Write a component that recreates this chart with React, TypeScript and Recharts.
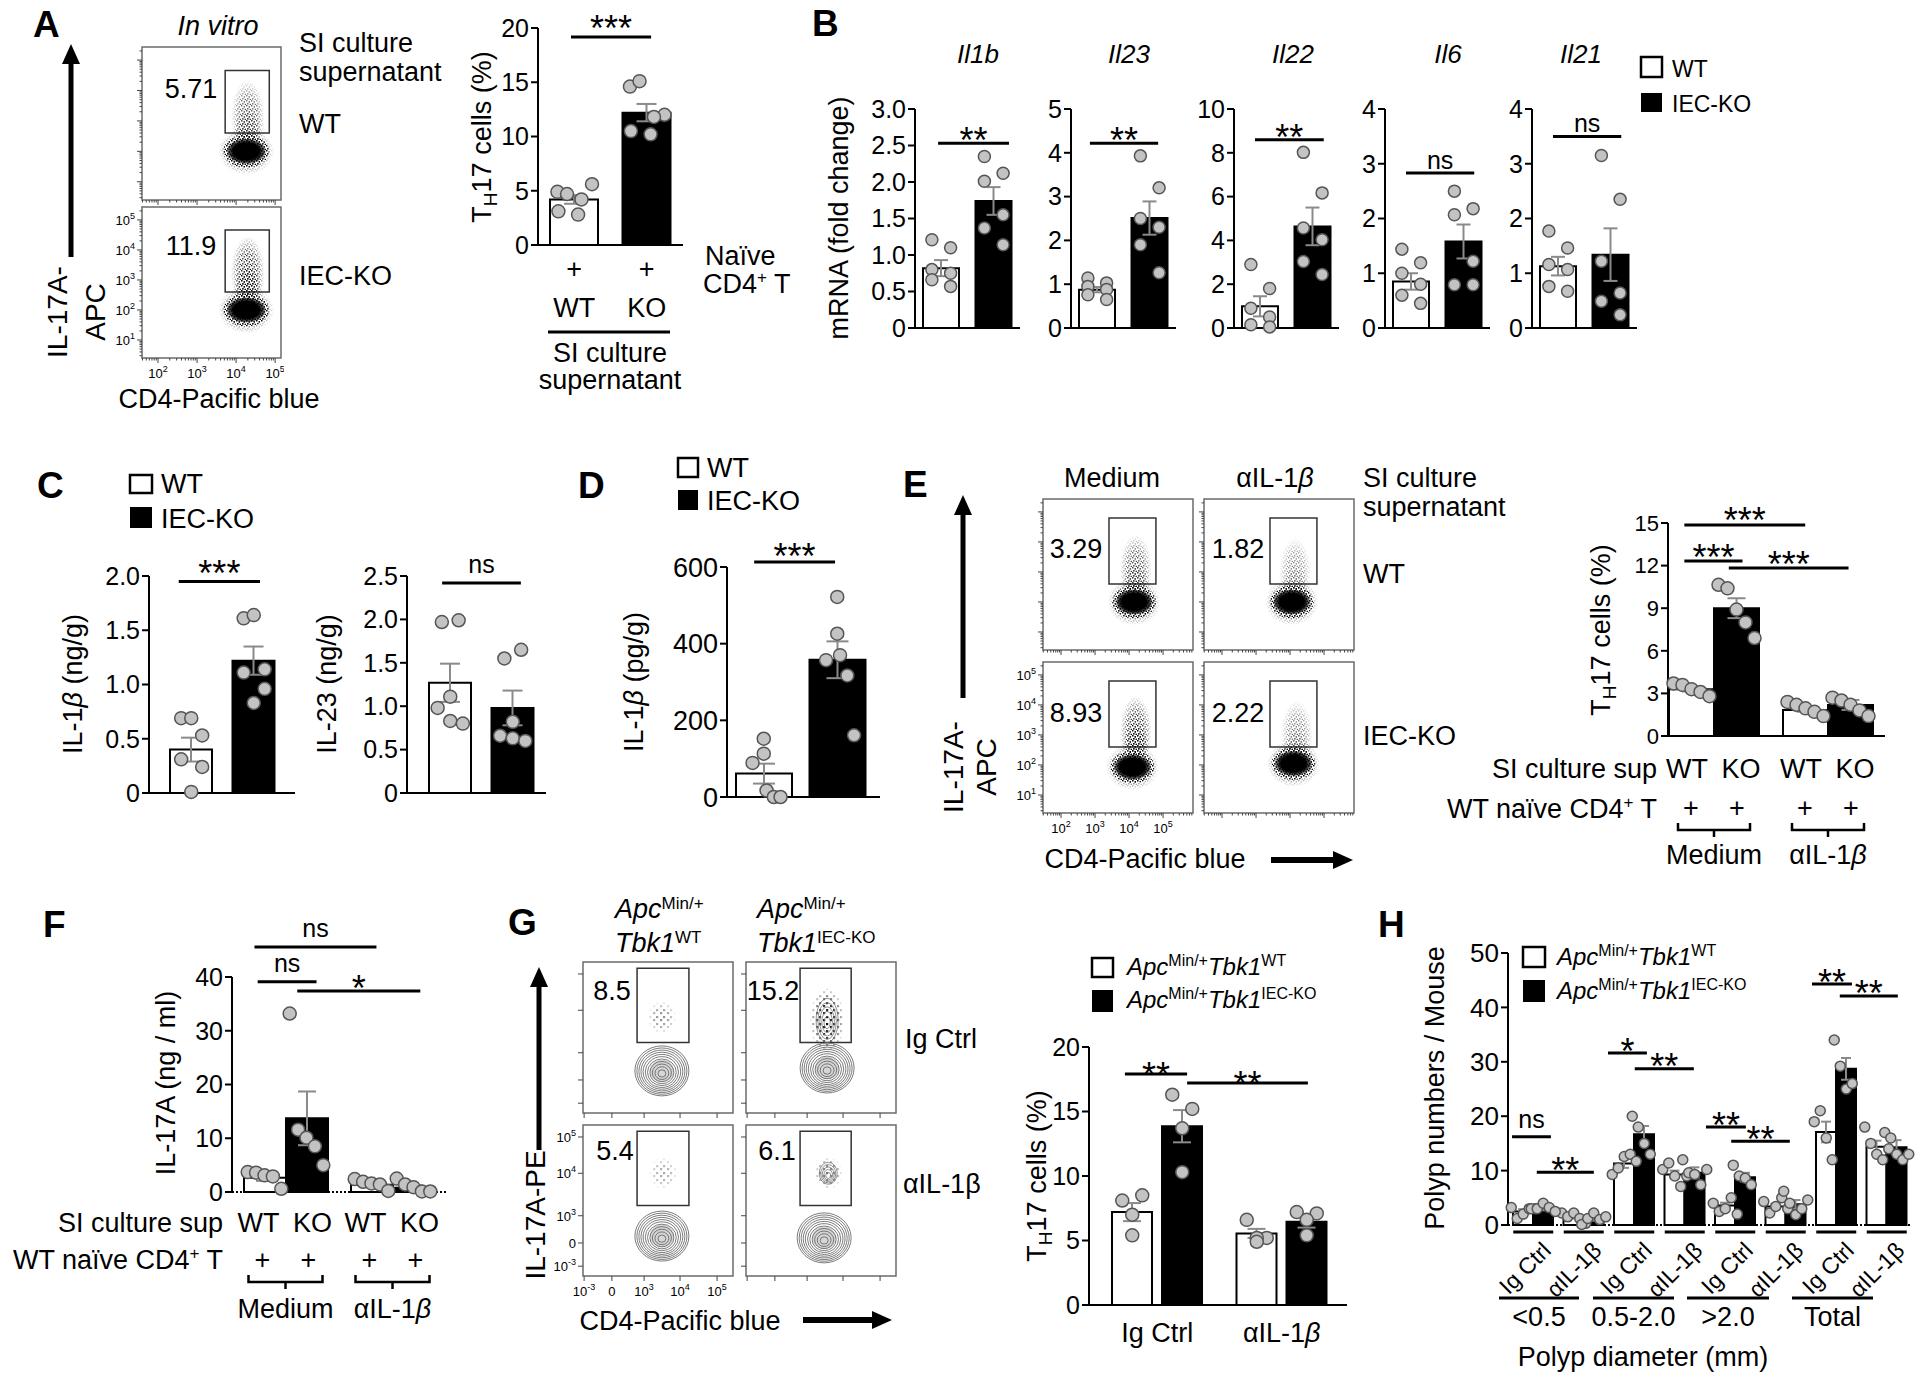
import React from 'react';
import { ComposedChart, Bar, Scatter, XAxis, YAxis, ErrorBar, ReferenceLine, ReferenceArea, Cell } from 'recharts';

const FONT = '"Liberation Sans", Arial, Helvetica, sans-serif';

// ---------------- data ----------------
// A: in vitro TH17
const aCats = ['WT', 'KO'];
const aMean = [4.2, 12.2];
const aSem = [0.4, 0.8];
const aPts = [[4.9, 4.7, 5.6, 4.2, 3.1, 2.8], [14.6, 15.1, 12.0, 11.8, 10.5, 10.2]];
const aFlowNums = ['5.71', '11.9'];
const aCore = [[4.26, 2.0], [4.26, 2.0]];
const aTail = [[4.3, 3.1], [4.3, 3.2]];
const aGate = [3.72, 4.85, 2.6, 4.66];

// B: mRNA
const bGenes = ['Il1b', 'Il23', 'Il22', 'Il6', 'Il21'];
const bMean = [[0.82, 1.74], [0.875, 2.51], [0.99, 4.64], [0.85, 1.58], [1.13, 1.34]];
const bSem = [[0.11, 0.19], [0.06, 0.38], [0.46, 0.86], [0.15, 0.31], [0.17, 0.48]];
const bPts = [
  [[1.21, 1.1, 0.8, 0.75, 0.66, 0.57], [2.35, 2.12, 2.01, 1.55, 1.37, 1.14]],
  [[1.14, 1.03, 0.95, 0.88, 0.76, 0.65], [3.93, 3.2, 2.5, 2.3, 1.9, 1.26]],
  [[2.9, 1.8, 0.9, 0.5, 0.15, 0.05], [8.02, 6.17, 4.57, 4.03, 3.04, 2.44]],
  [[1.44, 1.19, 1.0, 0.8, 0.6, 0.45], [2.5, 2.18, 2.07, 1.22, 0.79, 0.79]],
  [[1.77, 1.46, 1.16, 1.07, 0.76, 0.67], [3.15, 2.35, 1.22, 0.64, 0.49, 0.24]],
];
const bTicks = [[0, 0.5, 1, 1.5, 2, 2.5, 3], [0, 1, 2, 3, 4, 5], [0, 2, 4, 6, 8, 10], [0, 1, 2, 3, 4], [0, 1, 2, 3, 4]];
const bSigY = [2.53, 4.22, 8.6, 2.83, 3.5];
const bSigT = ['**', '**', '**', 'ns', 'ns'];

// C: IL-1b / IL-23 protein
const cMean1 = [0.4, 1.22];
const cSem1 = [0.11, 0.13];
const cPts1 = [[0.69, 0.69, 0.53, 0.31, 0.24, 0.01], [1.61, 1.64, 1.14, 1.11, 0.96, 0.83]];
const cMean2 = [1.27, 0.98];
const cSem2 = [0.22, 0.2];
const cPts2 = [[1.97, 1.99, 1.11, 0.98, 0.83, 0.8], [1.55, 1.65, 0.82, 0.66, 0.63, 0.6]];

// D: IL-1b pg/g
const dMean = [61, 358];
const dSem = [26, 48];
const dPts = [[152, 113, 89, 17, 0, 0], [522, 426, 357, 370, 317, 161]];

// E: anti-IL-1b
const eCats = ['Medium', 'αIL-1β'];
const pairLabels = ['WT', 'KO'];
const eWT = [3.29, 1.83];
const eWTsem = [0.15, 0.12];
const eKO = [9.0, 2.19];
const eKOsem = [0.7, 0.35];
const eWTpts = [[3.7, 3.6, 3.3, 3.1, 2.8], [2.4, 2.2, 1.95, 1.7, 1.4]];
const eKOpts = [[10.65, 10.4, 8.9, 8.0, 6.9], [2.7, 2.5, 2.2, 1.8, 1.4]];
const eFlowNums = ['3.29', '1.82', '8.93', '2.22'];
const eCore = [[4.15, 2.0], [4.05, 2.0], [4.1, 1.93], [4.1, 2.05]];
const eTail = [[4.2, 3.05], [4.15, 2.95], [4.2, 3.1], [4.2, 2.95]];
const eGate = [3.41, 4.79, 2.6, 4.8];

// F: IL-17A ng/ml
const fWT = [2.67, 1.37];
const fWTsem = [0.6, 0.35];
const fKO = [13.7, 0.8];
const fKOsem = [5.0, 0.45];
const fWTpts = [[3.7, 3.6, 3.1, 2.9, 0.6], [2.4, 1.9, 1.6, 1.4, 0.2]];
const fKOpts = [[33.2, 11.6, 10.1, 8.5, 5.0], [2.5, 1.4, 0.9, 0.1, 0.1]];

// G: ApcMin tumours TH17
const gCats = ['Ig Ctrl', 'αIL-1β'];
const gWT = [7.2, 5.55];
const gWTsem = [0.7, 0.35];
const gKO = [13.86, 6.45];
const gKOsem = [1.25, 0.45];
const gWTpts = [[8.1, 8.5, 7.0, 5.4], [6.6, 5.2, 5.2, 4.9]];
const gKOpts = [[16.3, 15.2, 13.7, 10.3], [7.2, 7.1, 6.6, 5.4]];
const gFlowNums = ['8.5', '15.2', '5.4', '6.1'];
const gCore = [[3.51, 2.33], [3.57, 2.41], [3.51, 2.27], [3.49, 2.22]];
const gTail = [[3.51, 3.8], [3.57, 3.72], [3.55, 4.0], [3.6, 4.0]];
const gGate = [2.84, 4.24, 3.11, 5.16];

// H: polyps
const hSizes = ['<0.5', '0.5-2.0', '>2.0', 'Total'];
const hTreat = ['Ig Ctrl', 'αIL-1β'];
const hCats = hSizes.flatMap((s) => hTreat.map((t) => `${s}|${t}`));
const hWT = [2.5, 1.5, 11.3, 9.3, 3.6, 3.4, 17.1, 14.4];
const hWTsem = [0.4, 0.3, 0.8, 0.7, 0.5, 0.5, 1.9, 1.1];
const hKO = [3.0, 1.2, 16.7, 9.6, 8.8, 3.8, 28.7, 14.3];
const hKOsem = [0.3, 0.4, 1.5, 1.0, 0.8, 0.8, 2.0, 1.3];
const hWTpts = [[3.2, 1.2, 2.0, 3.0, 3.0], [2.2, 1.5, 2.2, 1.2, 0.3], [9.3, 10.5, 12.6, 13.0, 11.7], [10.2, 11.4, 9.0, 7.1, 9.0], [4.0, 2.5, 3.0, 5.0, 2.0], [4.3, 2.2, 3.4, 5.0, 3.0], [19, 21, 16, 12], [18, 15, 13, 12, 14]];
const hKOpts = [[3.0, 3.0, 4.0, 3.2, 2.5], [0.1, 1.2, 2.2, 1.0, 1.5], [20, 18, 15, 13], [12, 9.6, 9.3, 7.4, 10.2], [11, 9, 8.6, 7.4], [6.2, 4.0, 1.9, 3.0, 4.6], [34, 29.2, 25, 26], [17, 16, 13, 12, 13]];

// ---------------- helpers ----------------
const greek = (s: string, it = true) =>
  s.endsWith('β') ? (<>{s.slice(0, -1)}<tspan fontStyle={it ? 'italic' : 'normal'}>β</tspan></>) : s;
const f1 = (v: number) => (v === 0 ? '0' : v.toFixed(1));

type Series = { key: string; vals: number[]; sems: number[]; pts: number[][]; fills: string[] };
type Sig = { x1: number; x2: number; y: number; t: string };
type PanelProps = {
  left: number; top: number; w: number; h: number;
  cats: string[]; series: Series[];
  domain: [number, number]; ticks: number[]; fmt?: (v: number) => string;
  barSize: number; gap?: number; pad?: { left: number; right: number };
  sigs: Sig[]; starDy?: number; nsDy?: number; starSize?: number; nsSize?: number;
  tick?: (base: number) => (t: any) => React.ReactElement;
  xh?: number; mt?: number; dotR?: number; capW?: number; dashed?: boolean; tickFont?: number; jit?: number[];
};

function BarPanel(p: PanelProps) {
  const yw = 70;
  const mr = 14;
  const mt = p.mt ?? 60;
  const xh = p.xh ?? 24;
  const pad = p.pad ?? { left: 0, right: 0 };
  const gap = p.gap ?? 0;
  const n = p.cats.length;
  const band = (p.w - pad.left - pad.right) / n;
  const total = p.series.length * p.barSize + (p.series.length - 1) * gap;
  const jit = p.jit ?? [-0.26, 0.26, -0.26, 0.26, -0.26, 0.26];
  const rows = p.cats.map((c, i) => {
    const r: Record<string, number | string> = { c };
    p.series.forEach((s) => {
      r[s.key] = s.vals[i];
      r[s.key + 'E'] = s.sems[i];
    });
    return r;
  });
  const pts: { x: number; y: number }[] = [];
  p.series.forEach((s, si) => {
    const off = -total / 2 + si * (p.barSize + gap) + p.barSize / 2;
    s.pts.forEach((arr, ci) =>
      arr.forEach((v, k) => pts.push({ x: ci + 0.5 + (off + jit[k % jit.length] * p.barSize) / band, y: v })),
    );
  });
  const base = mt + p.h;
  const dotR = p.dotR ?? 6.5;
  const sigLabel = (t: string) => (lp: any) => {
    const vb = lp.viewBox;
    const star = t.includes('*');
    return (
      <text x={vb.x + vb.width / 2} y={vb.y + (star ? p.starDy ?? 6 : p.nsDy ?? -9)} textAnchor="middle"
        fontSize={star ? p.starSize ?? 36 : p.nsSize ?? 25} fontFamily={FONT} fill="#000">{t}</text>
    );
  };
  return (
    <div style={{ position: 'absolute', left: p.left - yw, top: p.top - mt }}>
      <ComposedChart width={yw + p.w + mr} height={mt + p.h + xh} data={rows}
        margin={{ top: mt, right: mr, left: 0, bottom: 0 }} barGap={gap}>
        <XAxis dataKey="c" type="category" height={xh} padding={pad} interval={0} tickLine={false}
          axisLine={{ stroke: '#000', strokeWidth: 2, strokeDasharray: p.dashed ? '2 2' : undefined }}
          tick={p.tick ? p.tick(base) : false} />
        <XAxis xAxisId="n" dataKey="x" type="number" domain={[0, n]} padding={pad} hide />
        <YAxis type="number" domain={p.domain} ticks={p.ticks} interval={0} width={yw} tickSize={7}
          tickFormatter={p.fmt} axisLine={{ stroke: '#000', strokeWidth: 2 }} tickLine={{ stroke: '#000', strokeWidth: 2 }}
          tick={{ fontSize: p.tickFont ?? 25, fill: '#000', fontFamily: FONT }} />
        {p.series.map((s) => (
          <Bar key={s.key} dataKey={s.key} barSize={p.barSize} stroke="#000" strokeWidth={2} isAnimationActive={false}>
            {p.cats.map((c, i) => <Cell key={c} fill={s.fills[i]} />)}
            <ErrorBar dataKey={s.key + 'E'} width={p.capW ?? 9} stroke="#8a8a8a" strokeWidth={2} direction="y" />
          </Bar>
        ))}
        <Scatter xAxisId="n" data={pts} dataKey="y" isAnimationActive={false}
          shape={(d: any) => <circle cx={d.cx} cy={d.cy} r={dotR} fill="#c3c3c3" stroke="#555" strokeWidth={1.5} />} />
        {p.sigs.map((s, i) => (
          <ReferenceLine key={i} xAxisId="n" segment={[{ x: s.x1, y: s.y }, { x: s.x2, y: s.y }]} ifOverflow="visible"
            stroke="#000" strokeWidth={3} label={sigLabel(s.t)} />
        ))}
      </ComposedChart>
    </div>
  );
}

// flow cytometry panel
type FlowProps = {
  left: number; top: number; w: number; h: number;
  xd: [number, number]; yd: [number, number];
  xMaj: number[]; yMaj: number[]; xLab?: string[]; yLab?: string[]; minor?: boolean;
  gate: number[]; core: number[]; tail: number[];
  coreR: [number, number]; tailR: [number, number]; tailOp: number; contour?: boolean;
};

const PowLab = ({ x, y, s, a }: { x: number; y: number; s: string; a: string }) => {
  const [b, e] = s.split('^');
  return (
    <text x={x} y={y} textAnchor={a as any} fontSize={13} fontFamily={FONT} fill="#000">
      {b}{e ? <tspan dy={-6} fontSize={9}>{e}</tspan> : null}
    </text>
  );
};

const rings = (cx: number, cy: number, rx: number, ry: number, k: number, col = '#5a5a5a') => (
  <g fill="none" stroke={col} strokeWidth={0.8}>
    {Array.from({ length: k }, (_, j) => {
      const f = Math.pow((j + 1) / k, 0.8);
      return <ellipse key={j} cx={cx} cy={cy + (1 - f) * 3} rx={rx * f} ry={ry * f} />;
    })}
  </g>
);

function FlowPlot(f: FlowProps) {
  const yw = 46;
  const mt = 2;
  const mr = 3;
  const xh = 32;
  const pb = mt + f.h;
  const minorOf = (d: [number, number]) => {
    const out: number[] = [];
    if (!f.minor) return out;
    for (let e = Math.floor(d[0]); e < d[1]; e++)
      for (let k = 2; k < 10; k++) {
        const v = e + Math.log10(k);
        if (v > d[0] && v < d[1]) out.push(v);
      }
    return out;
  };
  const xt = [...f.xMaj, ...minorOf(f.xd)];
  const yt = [...f.yMaj, ...minorOf(f.yd)];
  const xTick = (t: any) => {
    const mi = f.xMaj.indexOf(t.payload.value);
    return (
      <g>
        <line x1={t.x} x2={t.x} y1={pb} y2={pb + (mi >= 0 ? 5 : 2.5)} stroke="#444" strokeWidth={1} />
        {mi >= 0 && f.xLab ? <PowLab x={t.x} y={pb + 20} s={f.xLab[mi]} a="middle" /> : null}
      </g>
    );
  };
  const yTick = (t: any) => {
    const mi = f.yMaj.indexOf(t.payload.value);
    return (
      <g>
        <line x1={yw} x2={yw - (mi >= 0 ? 5 : 2.5)} y1={t.y} y2={t.y} stroke="#444" strokeWidth={1} />
        {mi >= 0 && f.yLab ? <PowLab x={yw - 7} y={t.y + 5} s={f.yLab[mi]} a="end" /> : null}
      </g>
    );
  };
  const coreShape = (d: any) =>
    f.contour ? (
      <g>
        <ellipse cx={d.cx} cy={d.cy} rx={f.coreR[0] * 0.45} ry={f.coreR[1] * 0.45} fill="#8a8a8a" opacity={0.35} />
        {rings(d.cx, d.cy, f.coreR[0], f.coreR[1], 11)}
      </g>
    ) : (
      <g>
        <ellipse cx={d.cx} cy={d.cy} rx={f.coreR[0] * 1.4} ry={f.coreR[1] * 1.8} fill="url(#stipD)" mask="url(#fadeM)" />
        <ellipse cx={d.cx} cy={d.cy} rx={f.coreR[0] * 1.15} ry={f.coreR[1] * 1.25} fill="url(#stipD)" />
        <ellipse cx={d.cx} cy={d.cy} rx={f.coreR[0]} ry={f.coreR[1]} fill="url(#coreG)" />
      </g>
    );
  const tailShape = (d: any) =>
    f.contour ? (
      <g>
        <ellipse cx={d.cx} cy={d.cy} rx={f.tailR[0] * 1.6} ry={f.tailR[1] * 1.5} fill="url(#ev)" mask="url(#fadeM)" opacity={f.tailOp} />
        {f.tailOp > 0.5 ? rings(d.cx, d.cy, f.tailR[0], f.tailR[1], 5, '#777') : null}
      </g>
    ) : (
      <g opacity={f.tailOp}>
        <ellipse cx={d.cx} cy={d.cy} rx={f.tailR[0]} ry={f.tailR[1]} fill="url(#stipD)" mask="url(#fadeM)" />
        <ellipse cx={d.cx} cy={d.cy + f.tailR[1] * 0.35} rx={f.tailR[0] * 0.8} ry={f.tailR[1] * 0.55} fill="url(#stipD)" mask="url(#fadeM)" />
      </g>
    );
  return (
    <div style={{ position: 'absolute', left: f.left - yw, top: f.top - mt }}>
      <ComposedChart width={yw + f.w + mr} height={mt + f.h + xh} margin={{ top: mt, right: mr, left: 0, bottom: 0 }}>
        <XAxis dataKey="x" type="number" domain={f.xd} ticks={xt} interval={0} height={xh} axisLine={false} tickLine={false} tick={xTick} />
        <YAxis type="number" domain={f.yd} ticks={yt} interval={0} width={yw} axisLine={false} tickLine={false} tick={yTick} />
        <ReferenceArea x1={f.xd[0]} x2={f.xd[1]} y1={f.yd[0]} y2={f.yd[1]} fill="none" stroke="#6b6b6b" strokeWidth={1.5} ifOverflow="visible" />
        <Scatter data={[{ x: f.tail[0], y: f.tail[1] }]} dataKey="y" isAnimationActive={false} shape={tailShape} />
        <Scatter data={[{ x: f.core[0], y: f.core[1] }]} dataKey="y" isAnimationActive={false} shape={coreShape} />
        <ReferenceArea x1={f.gate[0]} x2={f.gate[1]} y1={f.gate[2]} y2={f.gate[3]} fill="none" stroke="#333" strokeWidth={1.5} ifOverflow="visible" />
      </ComposedChart>
    </div>
  );
}

// x-axis tick factories
const aTick = (base: number) => (t: any) => (
  <g fontFamily={FONT} fill="#000" fontSize={27}>
    <text x={t.x} y={base + 33} textAnchor="middle">+</text>
    <text x={t.x} y={base + 72} textAnchor="middle">{t.payload.value}</text>
  </g>
);
const pairTick = (dl: number, dp: number, lab: number, plus: number, br: [number, number, number], name: number) => (base: number) => (t: any) => {
  const x = t.x;
  return (
    <g fontFamily={FONT} fill="#000" fontSize={27}>
      {pairLabels.map((l, i) => <text key={l} x={x + (i ? dl : -dl)} y={base + lab} textAnchor="middle">{l}</text>)}
      {pairLabels.map((l, i) => <text key={'p' + l} x={x + (i ? dp : -dp)} y={base + plus} textAnchor="middle">+</text>)}
      <path d={`M${x - br[2]},${base + br[0]}V${base + br[1]}H${x + br[2]}V${base + br[0]}M${x},${base + br[1]}V${base + br[1] + 7}`}
        fill="none" stroke="#000" strokeWidth={2.5} />
      <text x={x} y={base + name} textAnchor="middle">{greek(t.payload.value)}</text>
    </g>
  );
};
const gTick = (base: number) => (t: any) => (
  <text x={t.x} y={base + 37} textAnchor="middle" fontSize={27} fontFamily={FONT} fill="#000">{greek(t.payload.value)}</text>
);
const hTick = (base: number) => (t: any) => {
  const lab = String(t.payload.value).split('|')[1];
  return (
    <g fontFamily={FONT} fill="#000">
      <line x1={t.x - 20} x2={t.x + 20} y1={base + 7} y2={base + 7} stroke="#000" strokeWidth={3} />
      <text x={t.x + 19} y={base + 27} textAnchor="end" fontSize={23} transform={`rotate(-45 ${t.x + 19} ${base + 27})`}>{greek(lab, false)}</text>
    </g>
  );
};

const wk = (vals: number[], sems: number[], pts: number[][], n: number): Series => ({ key: 'wt', vals, sems, pts, fills: Array(n).fill('#fff') });
const ko = (vals: number[], sems: number[], pts: number[][], n: number): Series => ({ key: 'ko', vals, sems, pts, fills: Array(n).fill('#000') });
const pair = (vals: number[], sems: number[], pts: number[][]): Series => ({ key: 'v', vals, sems, pts, fills: ['#fff', '#000'] });

// text helper for overlay
const T = ({ x, y, c, a = 'start', s = 27, b = false, i = false, r = false }: any) => (
  <text x={x} y={y} textAnchor={a} fontSize={s} fontWeight={b ? 700 : 400} fontStyle={i ? 'italic' : 'normal'}
    transform={r ? `rotate(-90 ${x} ${y})` : undefined}>{c}</text>
);
const th17 = <>T<tspan dy={6} fontSize={19}>H</tspan><tspan dy={-6}>17 cells (%)</tspan></>;
const apc = (g: string) => (
  <><tspan fontStyle="italic">Apc</tspan><tspan dy={-9} fontSize={16}>Min/+</tspan><tspan dy={9} fontStyle="italic">Tbk1</tspan><tspan dy={-9} fontSize={16}>{g}</tspan></>
);
const cd4 = (pre: string) => <>{pre}CD4<tspan dy={-10} fontSize={17}>+</tspan><tspan dy={10}> T</tspan></>;
const upArrow = (x: number, y1: number, y2: number) => (
  <g>
    <line x1={x} x2={x} y1={y1} y2={y2 + 16} stroke="#000" strokeWidth={5} />
    <polygon points={`${x - 9},${y2 + 20} ${x + 9},${y2 + 20} ${x},${y2}`} fill="#000" />
  </g>
);
const rightArrow = (y: number, x1: number, x2: number) => (
  <g>
    <line x1={x1} x2={x2 - 16} y1={y} y2={y} stroke="#000" strokeWidth={6} />
    <polygon points={`${x2 - 20},${y - 9} ${x2 - 20},${y + 9} ${x2},${y}`} fill="#000" />
  </g>
);

const LOG_LABS_Y = ['10^1', '10^2', '10^3', '10^4', '10^5'];
const LOG_LABS_X = ['10^2', '10^3', '10^4', '10^5'];
const BIEX = ['10^-3', '0', '10^3', '10^4', '10^5'];

export default function App() {
  const bLefts = [915, 1071, 1234, 1385, 1532];
  const bSigX = [[0.44, 1.79], [0.36, 1.66], [0.4, 1.71], [0.4, 1.7], [0.4, 1.7]];
  const eBoxes = [[1043, 499], [1204, 499], [1043, 662], [1204, 662]];
  const gBoxes = [[583, 962], [746, 962], [583, 1125], [746, 1125]];
  const eTailOp = [0.8, 0.55, 1, 0.6];
  const gTailOp = [0.45, 1, 0.35, 0.55];
  return (
    <div style={{ position: 'absolute', left: 0, top: 0, width: 1920, height: 1375, background: '#fff', overflow: 'hidden', fontFamily: FONT }}>
      <svg width={0} height={0} style={{ position: 'absolute' }}>
        <defs>
          <pattern id="stipD" width={5} height={5} patternUnits="userSpaceOnUse">
            <rect x={0} y={0} width={1.4} height={1.4} fill="#000" />
            <rect x={2.6} y={1.2} width={1.4} height={1.4} fill="#000" />
            <rect x={1.1} y={3.1} width={1.4} height={1.4} fill="#000" />
            <rect x={3.7} y={3.8} width={1.4} height={1.4} fill="#000" />
          </pattern>
          <pattern id="ev" width={7} height={7} patternUnits="userSpaceOnUse">
            <rect x={0} y={0} width={2.2} height={2.2} fill="#000" />
            <rect x={4} y={3} width={2.2} height={2.2} fill="#000" />
          </pattern>
          <radialGradient id="fadeG">
            <stop offset="0" stopColor="#fff" />
            <stop offset="0.55" stopColor="#bbb" />
            <stop offset="1" stopColor="#000" />
          </radialGradient>
          <mask id="fadeM" maskContentUnits="objectBoundingBox">
            <rect x={0} y={0} width={1} height={1} fill="url(#fadeG)" />
          </mask>
          <radialGradient id="coreG">
            <stop offset="0" stopColor="#000" stopOpacity={1} />
            <stop offset="0.65" stopColor="#000" stopOpacity={1} />
            <stop offset="0.88" stopColor="#000" stopOpacity={0.6} />
            <stop offset="1" stopColor="#000" stopOpacity={0} />
          </radialGradient>
        </defs>
      </svg>

      {/* A */}
      {aFlowNums.map((_, k) => (
        <FlowPlot key={'af' + k} left={142} top={k ? 207 : 47} w={139} h={k ? 151 : 153} xd={[1.59, 5.15]} yd={[0.4, 5.43]}
          xMaj={[2, 3, 4, 5]} yMaj={[1, 2, 3, 4, 5]} xLab={k ? LOG_LABS_X : undefined} yLab={k ? LOG_LABS_Y : undefined} minor
          gate={aGate} core={aCore[k]} tail={aTail[k]} coreR={[20, 13]} tailR={[17, 38]} tailOp={k ? 1 : 0.8} />
      ))}
      <BarPanel left={538} top={28} w={145} h={217} cats={aCats} series={[pair(aMean, aSem, aPts)]} domain={[0, 20]}
        ticks={[0, 5, 10, 15, 20]} barSize={48} sigs={[{ x1: 0.455, x2: 1.56, y: 19.17, t: '***' }]} starDy={3.5}
        tick={aTick} xh={90} mt={28} capW={10} jit={[-0.35, -0.15, 0.37, 0.15, -0.33, 0.08]} />

      {/* B */}
      {bGenes.map((g, k) => (
        <BarPanel key={g} left={bLefts[k]} top={109} w={105} h={219} cats={aCats} series={[pair(bMean[k], bSem[k], bPts[k])]}
          domain={[0, bTicks[k][bTicks[k].length - 1]]} ticks={bTicks[k]} fmt={k === 0 ? f1 : undefined} barSize={36}
          sigs={[{ x1: bSigX[k][0], x2: bSigX[k][1], y: bSigY[k], t: bSigT[k] }]} starDy={10} nsDy={-4} mt={30} dotR={6} capW={7} />
      ))}

      {/* C */}
      <BarPanel left={149} top={576} w={146} h={217} pad={{ left: 11, right: 10 }} cats={aCats} series={[pair(cMean1, cSem1, cPts1)]}
        domain={[0, 2]} ticks={[0, 0.5, 1, 1.5, 2]} fmt={f1} barSize={42} sigs={[{ x1: 0.3, x2: 1.6, y: 1.95, t: '***' }]}
        starDy={4.5} capW={10} jit={[-0.24, 0, 0.26, -0.24, 0.26, 0]} />
      <BarPanel left={407} top={576} w={139} h={217} pad={{ left: 12, right: 2 }} cats={aCats} series={[pair(cMean2, cSem2, cPts2)]}
        domain={[0, 2.5]} ticks={[0, 0.5, 1, 1.5, 2, 2.5]} fmt={f1} barSize={42} sigs={[{ x1: 0.37, x2: 1.63, y: 2.42, t: 'ns' }]}
        nsDy={-10} capW={10} jit={[-0.2, 0.2, 0, -0.3, 0, 0.3]} />

      {/* D */}
      <BarPanel left={727} top={567} w={153} h={230} pad={{ left: 0, right: 6 }} cats={aCats} series={[pair(dMean, dSem, dPts)]}
        domain={[0, 600]} ticks={[0, 200, 400, 600]} barSize={56} sigs={[{ x1: 0.37, x2: 1.47, y: 613, t: '***' }]}
        starDy={6.5} capW={11} tickFont={27} jit={[0, 0, -0.2, 0.05, 0.18, 0.3]} />

      {/* E */}
      {eFlowNums.map((_, k) => (
        <FlowPlot key={'ef' + k} left={eBoxes[k][0]} top={eBoxes[k][1]} w={150} h={151} xd={[1.47, 5.88]} yd={[0.4, 5.43]}
          xMaj={[2, 3, 4, 5]} yMaj={[1, 2, 3, 4, 5]} xLab={k === 2 ? LOG_LABS_X : undefined} yLab={k === 2 ? LOG_LABS_Y : undefined} minor
          gate={eGate} core={eCore[k]} tail={eTail[k]} coreR={[19, 13]} tailR={[16, 36]} tailOp={eTailOp[k]} />
      ))}
      <BarPanel left={1668} top={523} w={217} h={213} pad={{ left: -11, right: 0 }} cats={eCats}
        series={[wk(eWT, eWTsem, eWTpts, 2), ko(eKO, eKOsem, eKOpts, 2)]} domain={[0, 15]} ticks={[0, 3, 6, 9, 12, 15]}
        barSize={45} tickFont={22} sigs={[
          { x1: 0.24, x2: 1.3, y: 14.86, t: '***' },
          { x1: 0.24, x2: 0.75, y: 12.32, t: '***' },
          { x1: 0.63, x2: 1.68, y: 11.83, t: '***' },
        ]} starDy={8.5} dotR={6.5} capW={9} tick={pairTick(27, 23, 42, 81, [87, 94, 36], 128)} xh={140} mt={60}
        jit={[-0.4, -0.2, 0, 0.2, 0.4]} />

      {/* F */}
      <BarPanel left={232} top={977} w={214} h={215} cats={eCats}
        series={[wk(fWT, fWTsem, fWTpts, 2), ko(fKO, fKOsem, fKOpts, 2)]} domain={[0, 40]} ticks={[0, 10, 20, 30, 40]}
        barSize={42} dashed sigs={[
          { x1: 0.21, x2: 1.35, y: 45.6, t: 'ns' },
          { x1: 0.24, x2: 0.79, y: 39.1, t: 'ns' },
          { x1: 0.61, x2: 1.76, y: 37.4, t: '*' },
        ]} nsDy={-10} starDy={10.5} mt={70} capW={9} tick={pairTick(27, 23, 40, 77, [83, 90, 37], 126)} xh={140}
        jit={[-0.4, -0.2, 0, 0.2, 0.4]} />

      {/* G */}
      {gFlowNums.map((_, k) => (
        <FlowPlot key={'gf' + k} left={gBoxes[k][0]} top={gBoxes[k][1]} w={150} h={151} xd={[1.38, 5.43]} yd={[1.17, 5.33]}
          xMaj={[1.41, 2.16, 3.03, 4, 5]} yMaj={[1.44, 2.08, 2.83, 4, 5]} xLab={k === 2 ? BIEX : undefined} yLab={k === 2 ? BIEX : undefined}
          gate={k % 2 ? [2.84, 4.22, gGate[2], gGate[3]] : gGate} core={gCore[k]} tail={gTail[k]} coreR={[27, 25]}
          tailR={k === 1 ? [11, 22] : [9, 11]} tailOp={gTailOp[k]} contour />
      ))}
      <BarPanel left={1089} top={1047} w={258} h={258} pad={{ left: 6, right: 3 }} gap={10} cats={gCats}
        series={[wk(gWT, gWTsem, gWTpts, 2), ko(gKO, gKOsem, gKOpts, 2)]} domain={[0, 20]} ticks={[0, 5, 10, 15, 20]}
        barSize={40} sigs={[
          { x1: 0.24, x2: 0.74, y: 17.9, t: '**' },
          { x1: 0.74, x2: 1.71, y: 17.2, t: '**' },
        ]} starDy={13.5} capW={9} tick={gTick} xh={50} jit={[-0.25, 0.25, 0, 0]} />

      {/* H */}
      <BarPanel left={1508} top={953} w={404} h={272} cats={hCats}
        series={[wk(hWT, hWTsem, hWTpts, 8), ko(hKO, hKOsem, hKOpts, 8)]} domain={[0, 50]} ticks={[0, 10, 20, 30, 40, 50]}
        barSize={20} dashed tickFont={26} dotR={5} capW={5} sigs={[
          { x1: 0.08, x2: 0.85, y: 16.2, t: 'ns' },
          { x1: 0.57, x2: 1.7, y: 9.7, t: '**' },
          { x1: 1.98, x2: 2.75, y: 31.6, t: '*' },
          { x1: 2.51, x2: 3.68, y: 28.7, t: '**' },
          { x1: 3.92, x2: 4.71, y: 18.0, t: '**' },
          { x1: 4.42, x2: 5.58, y: 15.4, t: '**' },
          { x1: 6.02, x2: 6.81, y: 44.3, t: '**' },
          { x1: 6.57, x2: 7.72, y: 42.1, t: '**' },
        ]} nsDy={-9} starDy={10.5} tick={hTick} xh={80} jit={[-0.6, -0.3, 0, 0.3, 0.6]} />

      {/* overlay text */}
      <svg width={1920} height={1375} style={{ position: 'absolute', left: 0, top: 0, pointerEvents: 'none' }} fontFamily={FONT} fill="#000">
        {/* A */}
        <T x={33} y={37} c="A" s={37} b />
        <T x={218} y={35} c="In vitro" a="middle" i />
        {upArrow(71, 257, 44)}
        <T x={67} y={312} c="IL-17A-" a="middle" s={28} r />
        <T x={105} y={312} c="APC" a="middle" s={28} r />
        <T x={191} y={98} c={aFlowNums[0]} a="middle" />
        <T x={191} y={255} c={aFlowNums[1]} a="middle" />
        <T x={299} y={52} c="SI culture" />
        <T x={299} y={81} c="supernatant" />
        <T x={299} y={133} c="WT" />
        <T x={299} y={285} c="IEC-KO" />
        <T x={219} y={408} c="CD4-Pacific blue" a="middle" />
        <T x={491} y={137} c={th17} a="middle" r />
        <T x={705} y={265} c="Naïve" />
        <T x={703} y={293} c={cd4('')} />
        <line x1={548} x2={670} y1={332} y2={332} stroke="#000" strokeWidth={3} />
        <T x={610} y={362} c="SI culture" a="middle" />
        <T x={610} y={389} c="supernatant" a="middle" />

        {/* B */}
        <T x={812} y={36} c="B" s={37} b />
        {bGenes.map((g, k) => <T key={g} x={[978, 1129, 1293, 1448, 1581][k]} y={63} c={g} a="middle" i s={26} />)}
        <rect x={1641} y={57} width={21} height={20} fill="#fff" stroke="#000" strokeWidth={2.5} />
        <T x={1672} y={77} c="WT" s={23} />
        <rect x={1641} y={93} width={21} height={19} fill="#000" />
        <T x={1672} y={112} c="IEC-KO" s={23} />
        <T x={848} y={218} c="mRNA (fold change)" a="middle" r />

        {/* C */}
        <T x={37} y={498} c="C" s={37} b />
        <rect x={130} y={475} width={22} height={18} fill="#fff" stroke="#000" strokeWidth={2.5} />
        <T x={161} y={493} c="WT" />
        <rect x={130} y={507} width={22} height={21} fill="#000" />
        <T x={161} y={528} c="IEC-KO" />
        <T x={82} y={684} c={<>IL-1<tspan fontStyle="italic">β</tspan> (ng/g)</>} a="middle" r />
        <T x={336} y={684} c="IL-23 (ng/g)" a="middle" r />

        {/* D */}
        <T x={578} y={498} c="D" s={37} b />
        <rect x={678} y={458} width={20} height={19} fill="#fff" stroke="#000" strokeWidth={2.5} />
        <T x={707} y={477} c="WT" />
        <rect x={678} y={490} width={20} height={20} fill="#000" />
        <T x={707} y={510} c="IEC-KO" />
        <T x={643} y={682} c={<>IL-1<tspan fontStyle="italic">β</tspan> (pg/g)</>} a="middle" r />

        {/* E */}
        <T x={903} y={497} c="E" s={37} b />
        <T x={1112} y={487} c="Medium" a="middle" />
        <T x={1275} y={487} c={greek('αIL-1β')} a="middle" />
        <T x={1363} y={487} c="SI culture" />
        <T x={1363} y={516} c="supernatant" />
        <T x={1363} y={583} c="WT" />
        <T x={1363} y={745} c="IEC-KO" />
        {upArrow(963, 698, 495)}
        <T x={963} y={767} c="IL-17A-" a="middle" s={28} r />
        <T x={996} y={767} c="APC" a="middle" s={28} r />
        <T x={1076} y={558} c={eFlowNums[0]} a="middle" />
        <T x={1238} y={558} c={eFlowNums[1]} a="middle" />
        <T x={1076} y={722} c={eFlowNums[2]} a="middle" />
        <T x={1238} y={722} c={eFlowNums[3]} a="middle" />
        <T x={1145} y={868} c="CD4-Pacific blue" a="middle" />
        {rightArrow(860, 1271, 1353)}
        <T x={1610} y={630} c={th17} a="middle" r />
        <T x={1657} y={778} c="SI culture sup" a="end" />
        <T x={1657} y={818} c={cd4('WT naïve ')} a="end" />

        {/* F */}
        <T x={43} y={937} c="F" s={37} b />
        <T x={175} y={1083} c="IL-17A (ng / ml)" a="middle" r />
        <T x={223} y={1232} c="SI culture sup" a="end" />
        <T x={223} y={1269} c={cd4('WT naïve ')} a="end" />

        {/* G */}
        <T x={508} y={935} c="G" s={37} b />
        <T x={615} y={918} c={<><tspan fontStyle="italic">Apc</tspan><tspan dy={-9} fontSize={17}>Min/+</tspan></>} />
        <T x={615} y={952} c={<><tspan fontStyle="italic">Tbk1</tspan><tspan dy={-9} fontSize={17}>WT</tspan></>} />
        <T x={757} y={918} c={<><tspan fontStyle="italic">Apc</tspan><tspan dy={-9} fontSize={17}>Min/+</tspan></>} />
        <T x={757} y={952} c={<><tspan fontStyle="italic">Tbk1</tspan><tspan dy={-9} fontSize={17}>IEC-KO</tspan></>} />
        {upArrow(539, 1150, 967)}
        <T x={545} y={1215} c="IL-17A-PE" a="middle" s={28} r />
        <T x={612} y={1000} c={gFlowNums[0]} a="middle" />
        <T x={773} y={1000} c={gFlowNums[1]} a="middle" />
        <T x={615} y={1160} c={gFlowNums[2]} a="middle" />
        <T x={777} y={1160} c={gFlowNums[3]} a="middle" />
        <T x={905} y={1048} c="Ig Ctrl" />
        <T x={903} y={1193} c="αIL-1β" />
        <T x={680} y={1330} c="CD4-Pacific blue" a="middle" />
        {rightArrow(1320, 803, 892)}
        <rect x={1092} y={958} width={21} height={19} fill="#fff" stroke="#000" strokeWidth={2.5} />
        <T x={1127} y={975} c={apc('WT')} s={24} />
        <rect x={1092} y={990} width={21} height={22} fill="#000" />
        <T x={1127} y={1008} c={apc('IEC-KO')} s={24} />
        <T x={1046} y={1176} c={th17} a="middle" r />

        {/* H */}
        <T x={1378} y={937} c="H" s={37} b />
        <T x={1444} y={1088} c="Polyp numbers / Mouse" a="middle" r />
        <rect x={1523} y={947} width={22} height={20} fill="#fff" stroke="#000" strokeWidth={2.5} />
        <T x={1557} y={965} c={apc('WT')} s={24} />
        <rect x={1523} y={980} width={22} height={22} fill="#000" />
        <T x={1557} y={999} c={apc('IEC-KO')} s={24} />
        {hSizes.map((s, k) => {
          const seg = [[1499, 1579], [1593, 1674], [1687, 1769], [1792, 1873]][k];
          return (
            <g key={s}>
              <line x1={seg[0]} x2={seg[1]} y1={1298} y2={1298} stroke="#000" strokeWidth={3} />
              <T x={(seg[0] + seg[1]) / 2} y={1326} c={s} a="middle" />
            </g>
          );
        })}
        <T x={1643} y={1366} c="Polyp diameter (mm)" a="middle" />
      </svg>
    </div>
  );
}
